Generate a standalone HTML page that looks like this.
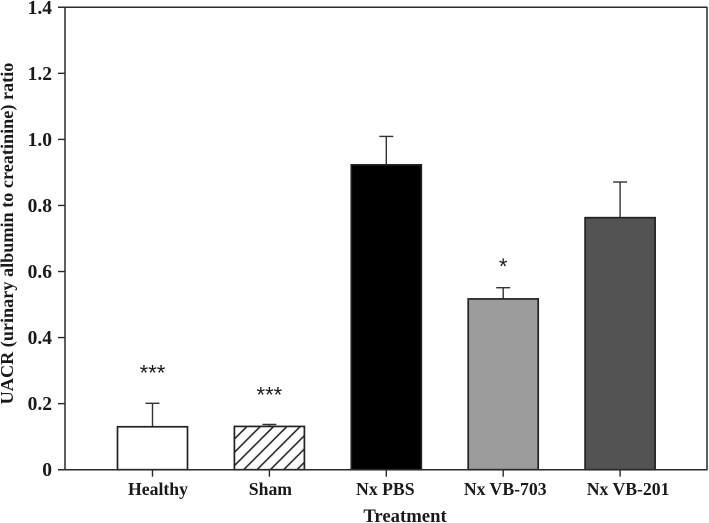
<!DOCTYPE html>
<html>
<head>
<meta charset="utf-8">
<style>
html,body{margin:0;padding:0;background:#fff;width:709px;height:523px;overflow:hidden}
svg{display:block}
text{font-family:"Liberation Serif",serif;font-weight:bold;fill:#1a1a1a}
</style>
</head>
<body>
<svg id="chart" width="709" height="523" viewBox="0 0 709 523" xmlns="http://www.w3.org/2000/svg">
<defs>
<pattern id="hatch" patternUnits="userSpaceOnUse" width="13.33" height="13.33" patternTransform="translate(6.9 0)">
<path d="M-2,2 L2,-2 M0,13.33 L13.33,0 M11.33,15.33 L15.33,11.33" stroke="#222" stroke-width="1.5" fill="none"/>
</pattern>
</defs>
<g id="plot" style="filter:blur(0.35px)"></g>
</svg>
<script>
const categories = ["Healthy", "Sham", "Nx PBS", "Nx VB-703", "Nx VB-201"];
const barValues = [0.13, 0.131, 0.923, 0.517, 0.763];
const errorTops = [0.201, 0.137, 1.009, 0.551, 0.871];
const barFills = ["#ffffff", "url(#hatch)", "#000000", "#9c9c9c", "#535353"];
const barNames = ["healthy", "sham", "nx-pbs", "nx-vb-703", "nx-vb-201"];
const significance = ["***", "***", "", "*", ""];
const significanceLevels = [0.27, 0.2035, 0, 0.592, 0];
const yTicks = [0, 0.2, 0.4, 0.6, 0.8, 1.0, 1.2, 1.4];
const yTickLabels = ["0", "0.2", "0.4", "0.6", "0.8", "1.0", "1.2", "1.4"];

const plot = document.getElementById('plot');
const NS = 'http://www.w3.org/2000/svg';
const y0 = 469.7, yPerUnit = 330.3;
const firstCenter = 152.5, step = 116.9, barWidth = 70;
const labelNudge = [5.5, 1, -1, 2, 8];
const yScale = v => y0 - v * yPerUnit;
const xScale = i => firstCenter + i * step;

function add(tag, attrs, text) {
  const el = document.createElementNS(NS, tag);
  for (const k in attrs) el.setAttribute(k, attrs[k]);
  if (text !== undefined) el.textContent = text;
  plot.appendChild(el);
  return el;
}
const lineColor = '#2a2a2a';

categories.forEach((c, i) => {
  const cx = xScale(i);
  const top = yScale(barValues[i]);
  const errTop = yScale(errorTops[i]);
  const errLine = add('line', {x1: cx, x2: cx, y1: top, y2: errTop, stroke: '#333', 'stroke-width': 1.4});
  
  
  const errCap = add('line', {x1: cx - 7, x2: cx + 7, y1: errTop, y2: errTop, stroke: '#333', 'stroke-width': 1.4});
  
  
  const bar = add('rect', {x: cx - barWidth / 2, y: top, width: barWidth, height: y0 - top, fill: barFills[i], stroke: '#222', 'stroke-width': 1.7});
  
  
  const tick = add('line', {x1: cx, x2: cx, y1: y0, y2: y0 + 7, stroke: lineColor, 'stroke-width': 1.4});
  
  
  const label = add('text', {x: cx + labelNudge[i], y: 495, 'text-anchor': 'middle', 'font-size': 17.7}, c);
  
  
  if (significance[i]) {
    const sig = add('text', {x: cx, y: yScale(significanceLevels[i]), 'text-anchor': 'middle', 'font-size': 22, style: 'font-family:"Liberation Sans",sans-serif;font-weight:normal'}, significance[i]);
    
    
  }
});

yTicks.forEach((t, i) => {
  const y = yScale(t);
  const tick = add('line', {x1: 58, x2: 65, y1: y, y2: y, stroke: lineColor, 'stroke-width': 1.4});
  
  
  const label = add('text', {x: 52, y: y + 6.5, 'text-anchor': 'end', 'font-size': 19.5}, yTickLabels[i]);
  
  
});

const frameTop = add('line', {x1: 58, x2: 707.5, y1: yScale(1.4), y2: yScale(1.4), stroke: lineColor, 'stroke-width': 1.5});


const frameRight = add('line', {x1: 707, x2: 707, y1: yScale(1.4), y2: y0, stroke: lineColor, 'stroke-width': 1.5});


const xAxis = add('line', {x1: 58, x2: 707.5, y1: y0, y2: y0, stroke: lineColor, 'stroke-width': 1.5});


const yAxis = add('line', {x1: 65, x2: 65, y1: yScale(1.4), y2: y0, stroke: lineColor, 'stroke-width': 1.5});



const xTitle = add('text', {x: 405, y: 522, 'text-anchor': 'middle', 'font-size': 18.7}, 'Treatment');


const yTitle = add('text', {x: 0, y: 0, transform: 'translate(13 233.5) rotate(-90)', 'text-anchor': 'middle', 'font-size': 18.2}, 'UACR (urinary albumin to creatinine) ratio');


</script>
</body>
</html>
